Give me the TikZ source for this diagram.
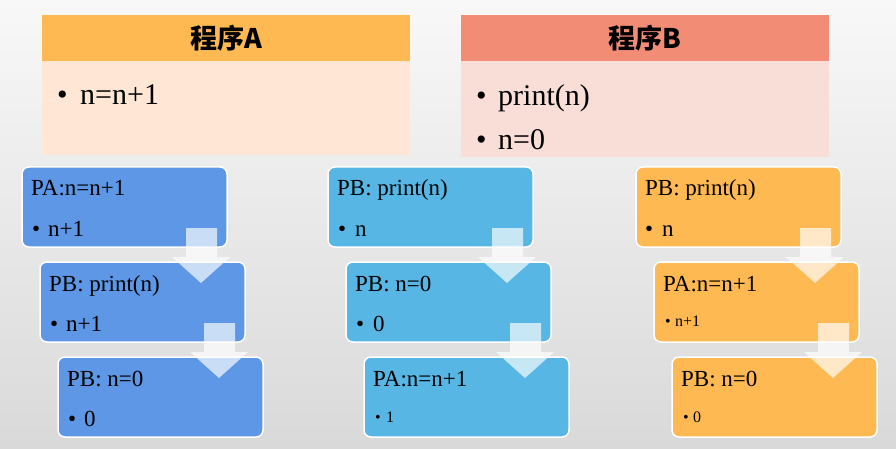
\documentclass[tikz,border=0pt]{standalone}
\usepackage{fontspec}
\setmainfont{Liberation Serif}
\newfontfamily\cjk{Noto Sans CJK SC}
\definecolor{bgtop}{HTML}{F8F8F8}
\definecolor{bgbot}{HTML}{D9D9D9}
\definecolor{hdrA}{HTML}{FFB953}
\definecolor{bodyA}{HTML}{FFE6D5}
\definecolor{hdrB}{HTML}{F28C74}
\definecolor{bodyB}{HTML}{F9DDD7}
\definecolor{cblue}{HTML}{5D97E5}
\definecolor{clight}{HTML}{57B6E3}
\definecolor{corange}{HTML}{FFB952}
\tikzset{
  hdr/.style={minimum width=368pt, minimum height=46pt, inner sep=0pt, outer sep=0pt,
    font=\cjk\bfseries\fontsize{27}{27}\selectfont, text=black},
  body/.style={minimum width=368pt, inner sep=0pt, outer sep=0pt, anchor=north},
  stepbox/.style={draw=white, line width=1.5pt, rounded corners=7pt, minimum width=205pt,
    minimum height=80pt, inner sep=0pt, outer sep=0pt, anchor=north west},
  big/.style={anchor=base west, inner sep=0pt, font=\fontsize{30}{30}\selectfont},
  ttl/.style={anchor=base west, inner sep=0pt, font=\fontsize{23}{23}\selectfont},
  sml/.style={anchor=base west, inner sep=0pt, font=\fontsize{16}{16}\selectfont},
  flow/.style={fill=white, fill opacity=0.68}
}
\begin{document}
\begin{tikzpicture}[x=1pt,y=-1pt]
\useasboundingbox (0,0) rectangle (896,449);
\shade[top color=bgtop, bottom color=bgbot] (0,0) rectangle (896,449);

% program A
\node[hdr, fill=hdrA] (hA) at (226,38) {程序A};
\node[body, fill=bodyA, minimum height=94pt] (bA) at (hA.south) {};
\node[big] (bA1) at (57,105) {\makebox[23pt][l]{•}n=n+1};
% program B
\node[hdr, fill=hdrB] (hB) at (644.5,38) {程序B};
\node[body, fill=bodyB, minimum height=96pt] (bB) at (hB.south) {};
\node[big] (bB1) at (476,106) {\makebox[22pt][l]{•}print(n)};
\node[big] (bB2) at (476,150) {\makebox[22pt][l]{•}n=0};

% column 1
\node[stepbox, fill=cblue] (a1) at (22,167) {};
\node[stepbox, fill=cblue] (a2) at (40,262) {};
\node[stepbox, fill=cblue] (a3) at (58,357) {};
\node[ttl] (a1t) at ([shift={(9,29)}]a1.north west) {PA:n=n+1};
\node[ttl] (a1b) at ([shift={(10,69)}]a1.north west) {\makebox[16pt][l]{•}n+1};
\node[ttl] (a2t) at ([shift={(9,29)}]a2.north west) {PB: print(n)};
\node[ttl] (a2b) at ([shift={(10,69)}]a2.north west) {\makebox[16pt][l]{•}n+1};
\node[ttl] (a3t) at ([shift={(9,29)}]a3.north west) {PB: n=0};
\node[ttl] (a3b) at ([shift={(10,69)}]a3.north west) {\makebox[16pt][l]{•}0};

% column 2
\node[stepbox, fill=clight] (b1) at (328,167) {};
\node[stepbox, fill=clight] (b2) at (346,262) {};
\node[stepbox, fill=clight] (b3) at (364,357) {};
\node[ttl] (b1t) at ([shift={(9,29)}]b1.north west) {PB: print(n)};
\node[ttl] (b1b) at ([shift={(10,69)}]b1.north west) {\makebox[17pt][l]{•}n};
\node[ttl] (b2t) at ([shift={(9,29)}]b2.north west) {PB: n=0};
\node[ttl] (b2b) at ([shift={(10,69)}]b2.north west) {\makebox[17pt][l]{•}0};
\node[ttl] (b3t) at ([shift={(9,29)}]b3.north west) {PA:n=n+1};
\node[sml] (b3b) at ([shift={(11,65)}]b3.north west) {\makebox[11pt][l]{•}1};

% column 3
\node[stepbox, fill=corange] (c1) at (636,167) {};
\node[stepbox, fill=corange] (c2) at (654,262) {};
\node[stepbox, fill=corange] (c3) at (672,357) {};
\node[ttl] (c1t) at ([shift={(9,29)}]c1.north west) {PB: print(n)};
\node[ttl] (c1b) at ([shift={(9,69)}]c1.north west) {\makebox[17pt][l]{•}n};
\node[ttl] (c2t) at ([shift={(9,29)}]c2.north west) {PA:n=n+1};
\node[sml] (c2b) at ([shift={(11,64)}]c2.north west) {\makebox[10pt][l]{•}n+1};
\node[ttl] (c3t) at ([shift={(9,29)}]c3.north west) {PB: n=0};
\node[sml] (c3b) at ([shift={(11,65)}]c3.north west) {\makebox[10pt][l]{•}0};

% flow arrows
\foreach \u in {a1,a2,b1,b2,c1,c2}{
  \fill[flow] ([shift={(-41,61)}]\u.north east) -- ++(31,0) -- ++(0,29) -- ++(13,0)
    -- ([shift={(-26,116)}]\u.north east) -- ([shift={(-55,90)}]\u.north east)
    -- ++(14,0) -- cycle;
}
\end{tikzpicture}
\end{document}
